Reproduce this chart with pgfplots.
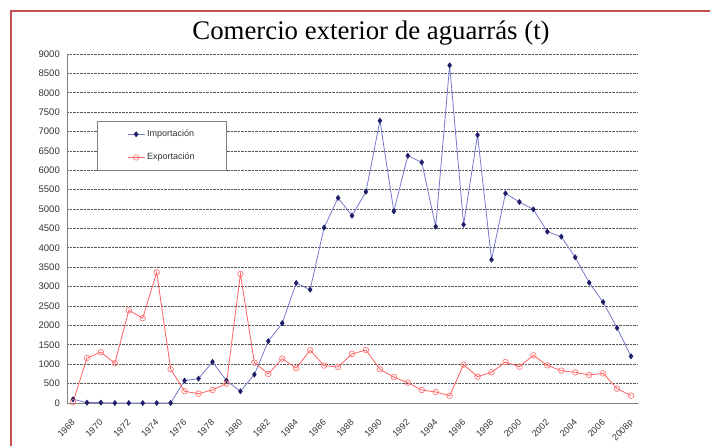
\documentclass[border=0pt]{standalone}
\usepackage{pgfplots}
\pgfplotsset{compat=1.18}
\usepackage{fontspec}
\setmainfont{Liberation Serif}
\newfontfamily\arial{Liberation Sans}
\definecolor{impline}{RGB}{120,120,205}
\definecolor{impmark}{RGB}{30,30,105}
\definecolor{expline}{RGB}{255,95,95}
\definecolor{expmark}{RGB}{255,120,120}
\definecolor{frame}{RGB}{192,80,77}
\definecolor{ticktext}{RGB}{50,50,50}
\begin{document}
\begin{tikzpicture}[x=1pt,y=1pt]
\path[use as bounding box] (0,0) rectangle (710,445);
\draw[frame, line width=1.8pt] (11,-2) -- (11,434) -- (712,434);
\node[anchor=base, font=\fontsize{26.8}{28}\selectfont] at (371,405) {Comercio exterior de aguarrás (t)};
\begin{axis}[
  at={(67pt,42pt)}, anchor=south west,
  scale only axis, width=570pt, height=349pt,
  xmin=-0.43, xmax=40.43, ymin=0, ymax=9000,
  axis x line=bottom, axis y line=left,
  axis line style={-, draw=gray, line width=0.9pt},
  xtick={0,2,...,40},
  xticklabels={1968,1970,1972,1974,1976,1978,1980,1982,1984,1986,1988,1990,1992,1994,1996,1998,2000,2002,2004,2006,2008p},
  ytick={0,500,...,9000},
  major tick length=0pt,
  ymajorgrids,
  grid style={densely dotted, draw=black!65, line width=0.8pt},
  /pgf/number format/assume math mode=true,
  /pgf/number format/1000 sep={},
  scaled y ticks=false,
  yticklabel style={font=\arial\fontsize{9.5}{10}\selectfont, text=ticktext, inner sep=0pt, xshift=-7pt},
  xticklabel style={font=\arial\fontsize{9}{10}\selectfont, text=ticktext, xshift=-2pt, yshift=-15pt, rotate=45, anchor=north east, inner sep=0.5pt},
  legend style={at={(0.0526,0.808)}, anchor=north west, draw=gray, fill=white,
    inner xsep=30pt, inner ysep=7pt, row sep=11pt,
    font=\arial\fontsize{9}{10}\selectfont, text=ticktext, cells={anchor=west}},
  legend cell align=left,
  clip=false,
]
\addplot[impline, line width=0.8pt, mark=diamond*, mark size=2.4pt, mark options={impmark, fill=impmark}] coordinates {
(0,95) (1,10) (2,10) (3,0) (4,0) (5,0) (6,0) (7,0) (8,578) (9,629)
(10,1060) (11,578) (12,302) (13,733) (14,1595) (15,2060) (16,3095) (17,2922) (18,4525) (19,5290)
(20,4830) (21,5449) (22,7280) (23,4943) (24,6377) (25,6207) (26,4547) (27,8708) (28,4600) (29,6911)
(30,3696) (31,5407) (32,5183) (33,4994) (34,4418) (35,4290) (36,3757) (37,3103) (38,2604) (39,1934)
(40,1204)};
\addlegendentry{Importación}
\addplot[expline, line width=0.8pt, mark=o, mark size=2.8pt, mark options={expmark, fill=white, line width=0.7pt}] coordinates {
(0,20) (1,1160) (2,1310) (3,1026) (4,2388) (5,2190) (6,3370) (7,871) (8,302) (9,241)
(10,336) (11,500) (12,3327) (13,1043) (14,750) (15,1146) (16,897) (17,1362) (18,965) (19,931)
(20,1265) (21,1367) (22,869) (23,670) (24,524) (25,335) (26,284) (27,189) (28,988) (29,679)
(30,791) (31,1057) (32,937) (33,1229) (34,971) (35,834) (36,791) (37,722) (38,765) (39,370)
(40,189)};
\addlegendentry{Exportación}
\end{axis}
\end{tikzpicture}
\end{document}
